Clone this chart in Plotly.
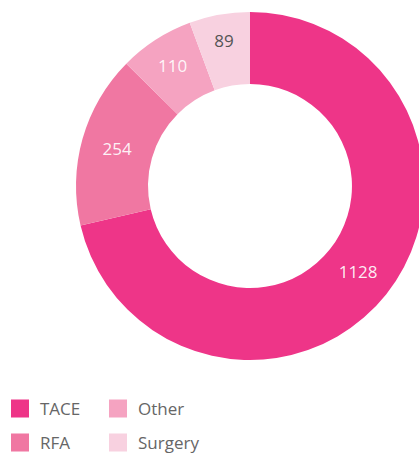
import plotly.graph_objects as go

categories = ["TACE", "RFA", "Other", "Surgery"]
values = [1128, 254, 110, 89]
colors = ["#EE3588", "#F077A2", "#F5A3C1", "#F8D1E0"]
text_colors = ["rgba(255,255,255,0.92)", "rgba(255,255,255,0.92)", "rgba(255,255,255,0.92)", "#555555"]

legend_cells = {"TACE": (0, 0), "Other": (1, 0), "RFA": (0, 1), "Surgery": (1, 1)}

VW, VH = 419, 453
W, H = 440, 453
cx, cy, R = 250, 186, 174

fig = go.Figure()
fig.add_trace(go.Pie(
    labels=categories, values=values, sort=False, direction="clockwise",
    rotation=0, hole=0.586,
    marker=dict(colors=colors, line=dict(width=0)),
    textinfo="value", textposition="inside", insidetextorientation="horizontal",
    textfont=dict(family="Open Sans", size=17, color=text_colors),
    showlegend=False,
    domain=dict(x=[(cx - R) / W, (cx + R) / W], y=[(H - cy - R) / H, (H - cy + R) / H]),
))

col_x = [0, 98]
row_y = [409, 443]
layout_legends = {}
for k, name in enumerate(categories):
    i = categories.index(name)
    lname = "legend" if k == 0 else f"legend{k + 1}"
    fig.add_trace(go.Scatter(
        x=[None], y=[None], mode="markers", name=name,
        marker=dict(symbol="square", size=16, color=colors[i], line=dict(width=2, color=colors[i])),
        legend=lname,
    ))
    c, r = legend_cells[name]
    layout_legends[lname] = dict(
        x=col_x[c] / W, y=(H - row_y[r]) / H,
        xanchor="left", yanchor="middle",
        font=dict(family="Open Sans", size=17, color="#666666"),
        bgcolor="rgba(0,0,0,0)", itemclick=False, itemdoubleclick=False,
    )

fig.update_layout(
    width=W, height=H, autosize=False,
    margin=dict(l=0, r=0, t=0, b=0, autoexpand=False),
    paper_bgcolor="white", plot_bgcolor="white",
    xaxis=dict(visible=False), yaxis=dict(visible=False),
    **layout_legends,
)

post = (
    "document.documentElement.style.overflow='hidden';"
    "document.body.style.margin='0';document.body.style.overflow='hidden';"
    "var gd=document.getElementById('{plot_id}');var p=gd.parentElement;"
    f"p.style.width='{VW}px';p.style.height='{VH}px';p.style.overflow='hidden';"
)
fig.write_html(
    "out.html",
    config={"displayModeBar": False, "responsive": False},
    post_script=post,
)
